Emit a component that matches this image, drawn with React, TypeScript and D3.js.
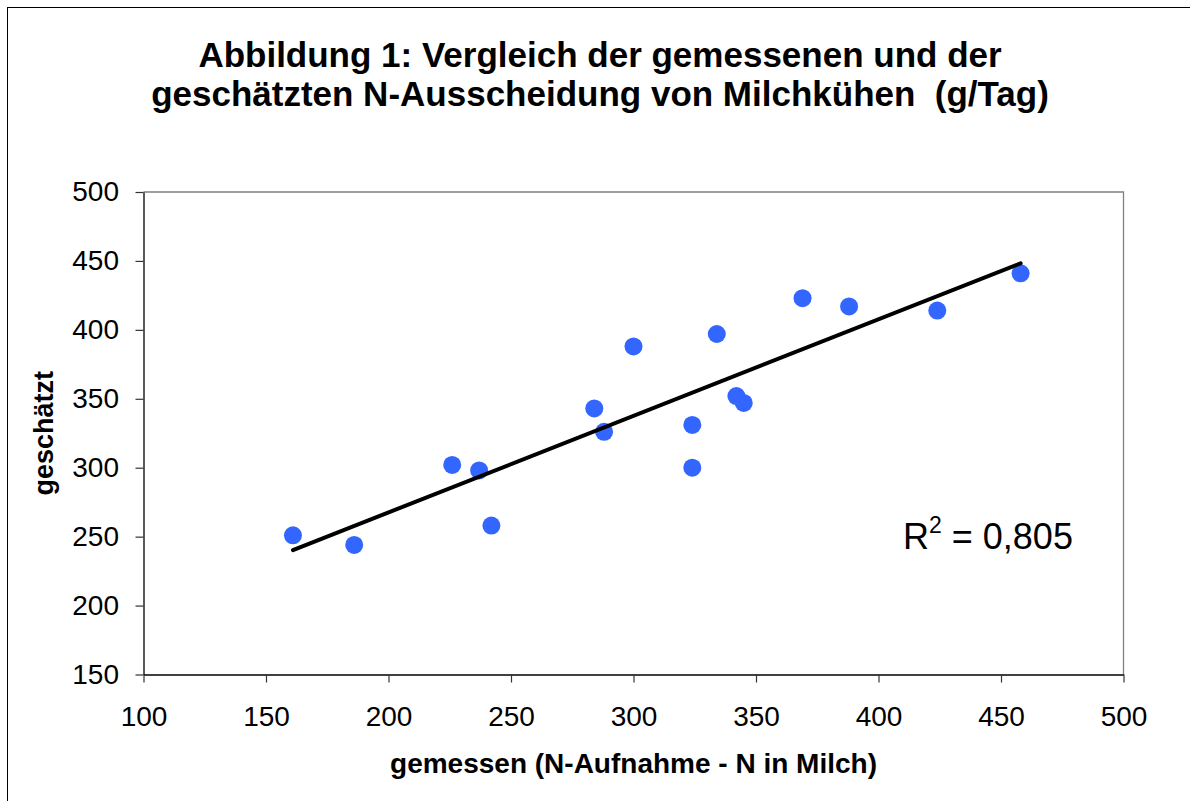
import * as d3 from 'd3';
import { useEffect, useRef } from 'react';

// measured (x) vs estimated (y) N excretion, g/day
const gemessen = [161, 186, 226, 237, 242, 284, 288, 300, 324, 324, 334, 342, 345, 369, 388, 424, 458];
const geschaetzt = [251, 244, 302, 298, 258, 343, 326, 388, 331, 300, 397, 352, 347, 423, 417, 414, 441];

const xTicks = [100, 150, 200, 250, 300, 350, 400, 450, 500];
const yTicks = [150, 200, 250, 300, 350, 400, 450, 500];

const titleLines = [
  'Abbildung 1: Vergleich der gemessenen und der',
  'geschätzten N-Ausscheidung von Milchkühen  (g/Tag)',
];
const xLabel = 'gemessen (N-Aufnahme - N in Milch)';
const yLabel = 'geschätzt';
const r2Text = '0,805';

export default function App() {
  const ref = useRef<SVGSVGElement | null>(null);

  useEffect(() => {
    if (!ref.current) return;
    const svg = d3.select(ref.current);
    svg.selectAll('*').remove();

    const width = 1190;
    const height = 801;
    const font = '"Liberation Sans", Arial, sans-serif';
    const left = 143.5, right = 1123.5, top = 192, bottom = 674.5;

    svg.append('rect')
      .attr('width', width).attr('height', height).attr('fill', '#fff');

    // outer chart frame (right/bottom run off the picture)
    svg.append('rect')
      .attr('x', 7.5).attr('y', 7.5)
      .attr('width', width + 10).attr('height', height + 10)
      .attr('fill', 'none').attr('stroke', '#000').attr('stroke-width', 1);

    const x = d3.scaleLinear().domain([100, 500]).range([left, right]);
    const y = d3.scaleLinear().domain([150, 500]).range([bottom, top]);

    // title
    svg.append('g')
      .selectAll('text')
      .data(titleLines)
      .join('text')
      .attr('x', 600)
      .attr('y', (_, i) => 66.5 + i * 39.5)
      .attr('text-anchor', 'middle')
      .style('font-family', font)
      .style('font-weight', 'bold')
      .style('font-size', '35px')
      .style('white-space', 'pre')
      .text((d) => d);

    // plot border top/right
    svg.append('path')
      .attr('d', `M${left},${top}H${right}V${bottom}`)
      .attr('fill', 'none').attr('stroke', '#808080').attr('stroke-width', 1.3);

    // X axis
    const gx = svg.append('g')
      .attr('transform', `translate(0, ${bottom})`)
      .call(d3.axisBottom(x).tickValues(xTicks).tickSize(8).tickSizeOuter(0).tickPadding(24));
    gx.select('.domain').attr('stroke', '#000').attr('stroke-width', 1.3);
    gx.selectAll('.tick line').attr('stroke', '#333').attr('stroke-width', 1.2);
    gx.selectAll('text')
      .style('font-family', font)
      .style('font-size', '28px')
      .attr('fill', '#000');

    // Y axis
    const gy = svg.append('g')
      .attr('transform', `translate(${left}, 0)`)
      .call(d3.axisLeft(y).tickValues(yTicks).tickSize(8).tickSizeOuter(0).tickPadding(16.5));
    gy.select('.domain').attr('stroke', '#000').attr('stroke-width', 1.3);
    gy.selectAll('.tick line').attr('stroke', '#333').attr('stroke-width', 1.2);
    gy.selectAll('text')
      .style('font-family', font)
      .style('font-size', '28px')
      .attr('fill', '#000');

    // axis titles
    svg.append('text')
      .attr('x', (left + right) / 2).attr('y', 773)
      .attr('text-anchor', 'middle')
      .style('font-family', font).style('font-weight', 'bold').style('font-size', '28px')
      .text(xLabel);

    svg.append('text')
      .attr('transform', `translate(53, ${(top + bottom) / 2}) rotate(-90)`)
      .attr('text-anchor', 'middle')
      .style('font-family', font).style('font-weight', 'bold').style('font-size', '27px')
      .text(yLabel);

    // linear trend line (least squares)
    const pts = gemessen.map((g, i) => [g, geschaetzt[i]] as [number, number]);
    const mx = d3.mean(gemessen)!;
    const my = d3.mean(geschaetzt)!;
    const slope = d3.sum(pts, ([a, b]) => (a - mx) * (b - my)) / d3.sum(pts, ([a]) => (a - mx) ** 2);
    const icpt = my - slope * mx;
    const [x0, x1] = d3.extent(gemessen) as [number, number];

    // points
    svg.append('g')
      .selectAll('circle')
      .data(pts)
      .join('circle')
      .attr('cx', (d) => x(d[0]))
      .attr('cy', (d) => y(d[1]))
      .attr('r', 9)
      .attr('fill', '#3366FF');

    svg.append('line')
      .attr('x1', x(x0)).attr('y1', y(icpt + slope * x0))
      .attr('x2', x(x1)).attr('y2', y(icpt + slope * x1))
      .attr('stroke', '#000').attr('stroke-width', 4).attr('stroke-linecap', 'round');

    // R² label
    const r2 = svg.append('text')
      .attr('x', 903).attr('y', 549)
      .style('font-family', font).style('font-size', '36px');
    r2.append('tspan').text('R');
    r2.append('tspan').attr('dy', -16).style('font-size', '23px').text('2');
    r2.append('tspan').attr('dy', 16).text(` = ${r2Text}`);
  }, []);

  return (
    <svg
      ref={ref}
      width={1190}
      height={801}
      style={{ position: 'absolute', left: 0, top: 0, display: 'block' }}
    />
  );
}
